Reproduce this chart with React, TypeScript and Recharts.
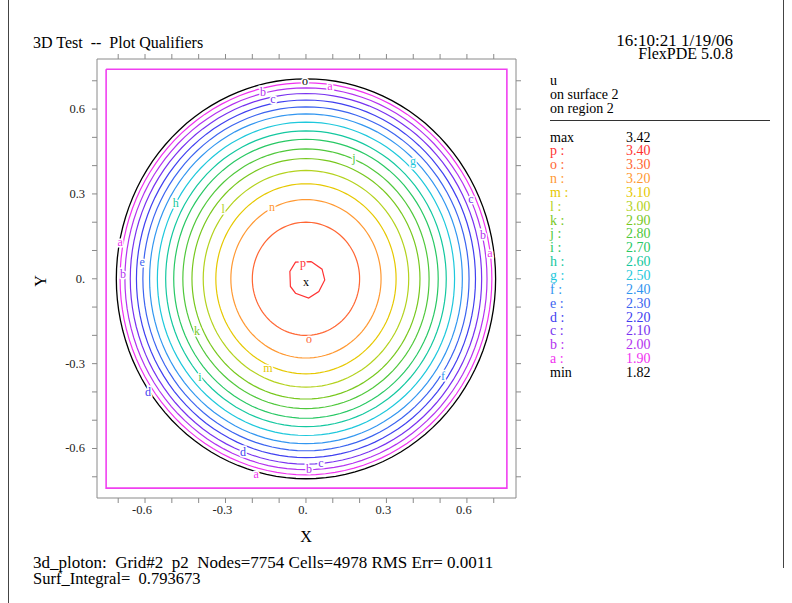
import { ComposedChart, Line, Scatter, XAxis, YAxis } from "recharts";

// contour levels, a (outermost) .. p (innermost)
const levelNames = ["a", "b", "c", "d", "e", "f", "g", "h", "i", "j", "k", "l", "m", "n", "o", "p"];
const levelValues = ["1.90", "2.00", "2.10", "2.20", "2.30", "2.40", "2.50", "2.60", "2.70", "2.80", "2.90", "3.00", "3.10", "3.20", "3.30", "3.40"];
// radius of each contour (a..o); p is drawn from its own outline
const levelRadii = [0.693, 0.675, 0.655, 0.632, 0.608, 0.583, 0.554, 0.523, 0.493, 0.459, 0.425, 0.383, 0.336, 0.28, 0.2];
const pContour = [
  { x: 0.019, y: 0.061 },
  { x: 0.06, y: 0.034 },
  { x: 0.07, y: -0.004 },
  { x: 0.048, y: -0.045 },
  { x: 0.01, y: -0.068 },
  { x: -0.039, y: -0.051 },
  { x: -0.058, y: -0.027 },
  { x: -0.06, y: 0.026 },
  { x: -0.039, y: 0.059 },
  { x: 0.019, y: 0.061 },
];
const boundaryRadius = 0.707;
const maxValue = "3.42";
const minValue = "1.82";

const boxCorners = [
  { x: -0.745, y: 0.741 },
  { x: 0.749, y: 0.741 },
  { x: 0.749, y: -0.74 },
  { x: -0.745, y: -0.74 },
  { x: -0.745, y: 0.741 },
];

const axisTicks = [-0.7, -0.6, -0.5, -0.4, -0.3, -0.2, -0.1, 0, 0.1, 0.2, 0.3, 0.4, 0.5, 0.6, 0.7];
const majorTicks = [-0.6, -0.3, 0, 0.3, 0.6];
const majorLabels = ["-0.6", "-0.3", "0.", "0.3", "0.6"];

// letter labels sitting on the contours (t = letter, k = level index, -1 = black marker)
const contourLabels = [
  { x: -0.004, y: 0.699, t: "o", k: -1 },
  { x: 0.089, y: 0.681, t: "a", k: 0 },
  { x: -0.16, y: 0.66, t: "b", k: 1 },
  { x: -0.123, y: 0.635, t: "c", k: 2 },
  { x: -0.485, y: 0.268, t: "h", k: 7 },
  { x: -0.309, y: 0.246, t: "l", k: 11 },
  { x: -0.127, y: 0.254, t: "n", k: 13 },
  { x: 0.179, y: 0.427, t: "j", k: 9 },
  { x: 0.399, y: 0.416, t: "g", k: 6 },
  { x: 0.615, y: 0.282, t: "c", k: 2 },
  { x: 0.66, y: 0.155, t: "b", k: 1 },
  { x: 0.686, y: 0.091, t: "a", k: 0 },
  { x: -0.011, y: 0.056, t: "p", k: 15 },
  { x: 0.0, y: -0.012, t: "x", k: -1 },
  { x: 0.011, y: -0.213, t: "o", k: 14 },
  { x: 0.511, y: -0.344, t: "f", k: 5 },
  { x: -0.693, y: 0.13, t: "a", k: 0 },
  { x: -0.682, y: 0.017, t: "b", k: 1 },
  { x: -0.611, y: 0.059, t: "e", k: 4 },
  { x: -0.406, y: -0.185, t: "k", k: 10 },
  { x: -0.395, y: -0.348, t: "i", k: 8 },
  { x: -0.142, y: -0.316, t: "m", k: 12 },
  { x: -0.589, y: -0.4, t: "d", k: 3 },
  { x: -0.235, y: -0.612, t: "d", k: 3 },
  { x: 0.056, y: -0.651, t: "c", k: 2 },
  { x: 0.011, y: -0.672, t: "b", k: 1 },
  { x: -0.186, y: -0.69, t: "a", k: 0 },
];

const levelColors = [
  "#f032f0", "#b432f0", "#7832f0", "#4040f0", "#3c64f0", "#3296f0", "#1ec8dc", "#14c8a0",
  "#28c864", "#50c83c", "#78c81e", "#b4d21e", "#e6c800", "#ff9933", "#ff6633", "#ff3333",
];

const FONT = "'Liberation Serif', 'Times New Roman', serif";
const RING_STEPS = 120;

const ring = (r: number) =>
  Array.from({ length: RING_STEPS + 1 }, (_, i) => {
    const a = (i / RING_STEPS) * Math.PI * 2;
    return { x: r * Math.cos(a), y: r * Math.sin(a) };
  });

const majorIndex = (v: number) => majorTicks.findIndex((t) => Math.abs(t - v) < 1e-6);

const XTick = (p: any) => {
  const i = majorIndex(p.payload.value);
  if (i < 0) return null;
  return (
    <text x={p.x - 3} y={p.y + 9} textAnchor="middle" fontSize={12.5} fontFamily={FONT} fill="#222">
      {majorLabels[i]}
    </text>
  );
};

const YTick = (p: any) => {
  const i = majorIndex(p.payload.value);
  if (i < 0) return null;
  return (
    <text x={p.x - 5} y={p.y + 4} textAnchor="end" fontSize={12.5} fontFamily={FONT} fill="#222">
      {majorLabels[i]}
    </text>
  );
};

const NoTick = () => null;

const LabelShape = (p: any) => {
  const d = p.payload;
  const color = d.k < 0 ? "#000" : levelColors[d.k];
  return (
    <text
      x={p.cx}
      y={p.cy}
      dy="0.32em"
      textAnchor="middle"
      fontSize={12}
      fontFamily={FONT}
      fill={color}
      stroke="#fff"
      strokeWidth={3}
      paintOrder="stroke"
    >
      {d.t}
    </text>
  );
};

const X_DOMAIN: [number, number] = [-0.779, 0.783];
const Y_DOMAIN: [number, number] = [-0.775, 0.777];
const AXIS_LINE = { stroke: "#8a8a8a", strokeWidth: 1 };

export default function App() {
  const legendRows = [
    { name: "max", value: maxValue, color: "#000" },
    ...levelNames
      .map((n, i) => ({ name: `${n} :`, value: levelValues[i], color: levelColors[i] }))
      .reverse(),
    { name: "min", value: minValue, color: "#000" },
  ];

  return (
    <div style={{ position: "absolute", left: 0, top: 0, width: 792, height: 603, background: "#fff" }}>
      <ComposedChart width={792} height={603} margin={{ top: 49, right: 266, bottom: 75, left: 57 }}>
        <XAxis
          type="number"
          dataKey="x"
          domain={X_DOMAIN}
          allowDataOverflow
          ticks={axisTicks}
          interval={0}
          tickSize={5}
          height={30}
          axisLine={AXIS_LINE}
          tickLine={AXIS_LINE}
          tick={(p: any) => <XTick {...p} />}
        />
        <XAxis
          xAxisId="top"
          orientation="top"
          type="number"
          dataKey="x"
          domain={X_DOMAIN}
          allowDataOverflow
          ticks={axisTicks}
          interval={0}
          tickSize={5}
          height={10}
          axisLine={AXIS_LINE}
          tickLine={AXIS_LINE}
          tick={NoTick}
        />
        <YAxis
          type="number"
          dataKey="y"
          domain={Y_DOMAIN}
          allowDataOverflow
          ticks={axisTicks}
          interval={0}
          tickSize={5}
          width={40}
          axisLine={AXIS_LINE}
          tickLine={AXIS_LINE}
          tick={(p: any) => <YTick {...p} />}
        />
        <YAxis
          yAxisId="right"
          orientation="right"
          type="number"
          dataKey="y"
          domain={Y_DOMAIN}
          allowDataOverflow
          ticks={axisTicks}
          interval={0}
          tickSize={5}
          width={10}
          axisLine={AXIS_LINE}
          tickLine={AXIS_LINE}
          tick={NoTick}
        />

        <Line
          xAxisId="top"
          yAxisId="right"
          data={boxCorners}
          dataKey="y"
          type="linear"
          stroke="#f040f0"
          strokeWidth={1.6}
          dot={false}
          isAnimationActive={false}
        />

        {levelRadii.map((r, i) => (
          <Line
            key={levelNames[i]}
            data={ring(r)}
            dataKey="y"
            type="linear"
            stroke={levelColors[i]}
            strokeWidth={1.2}
            dot={false}
            isAnimationActive={false}
          />
        ))}
        <Line
          data={pContour}
          dataKey="y"
          type="linear"
          stroke={levelColors[15]}
          strokeWidth={1.2}
          dot={false}
          isAnimationActive={false}
        />
        <Line
          data={ring(boundaryRadius)}
          dataKey="y"
          type="linear"
          stroke="#000"
          strokeWidth={1.3}
          dot={false}
          isAnimationActive={false}
        />
        <Scatter data={contourLabels} shape={(p: any) => <LabelShape {...p} />} isAnimationActive={false} />
      </ComposedChart>

      <svg
        width={792}
        height={603}
        style={{ position: "absolute", left: 0, top: 0, pointerEvents: "none" }}
        fontFamily={FONT}
      >
        <line x1={8.5} y1={0} x2={8.5} y2={603} stroke="#444" strokeWidth={1} />
        <line x1={783.5} y1={0} x2={783.5} y2={568} stroke="#444" strokeWidth={1} />

        <text x={33} y={48} fontSize={16} fill="#000" style={{ whiteSpace: "pre" }}>
          {"3D Test  --  Plot Qualifiers"}
        </text>
        <text x={733} y={46} fontSize={17} textAnchor="end" fill="#000">
          16:10:21 1/19/06
        </text>
        <text x={733} y={59} fontSize={16} textAnchor="end" fill="#000">
          FlexPDE 5.0.8
        </text>

        <text x={550} y={85} fontSize={14} fill="#000">u</text>
        <text x={550} y={99} fontSize={14} fill="#000">on surface 2</text>
        <text x={550} y={113} fontSize={14} fill="#000">on region 2</text>
        <line x1={550} y1={120.5} x2={770} y2={120.5} stroke="#333" strokeWidth={1.2} />

        {legendRows.map((row, i) => (
          <g key={row.name + i} fill={row.color} fontSize={14}>
            <text x={550} y={141.5 + i * 13.85}>{row.name}</text>
            <text x={626} y={141.5 + i * 13.85}>{row.value}</text>
          </g>
        ))}

        <text x={306} y={542} fontSize={16} textAnchor="middle" fill="#000">X</text>
        <text x={46} y={281} fontSize={16} textAnchor="middle" fill="#000" transform="rotate(-90 46 281)">
          Y
        </text>

        <text x={33} y={568} fontSize={17} fill="#000" style={{ whiteSpace: "pre" }}>
          {"3d_ploton:  Grid#2  p2  Nodes=7754 Cells=4978 RMS Err= 0.0011"}
        </text>
        <text x={33} y={584} fontSize={16.5} fill="#000" style={{ whiteSpace: "pre" }}>
          {"Surf_Integral=  0.793673"}
        </text>
      </svg>
    </div>
  );
}
